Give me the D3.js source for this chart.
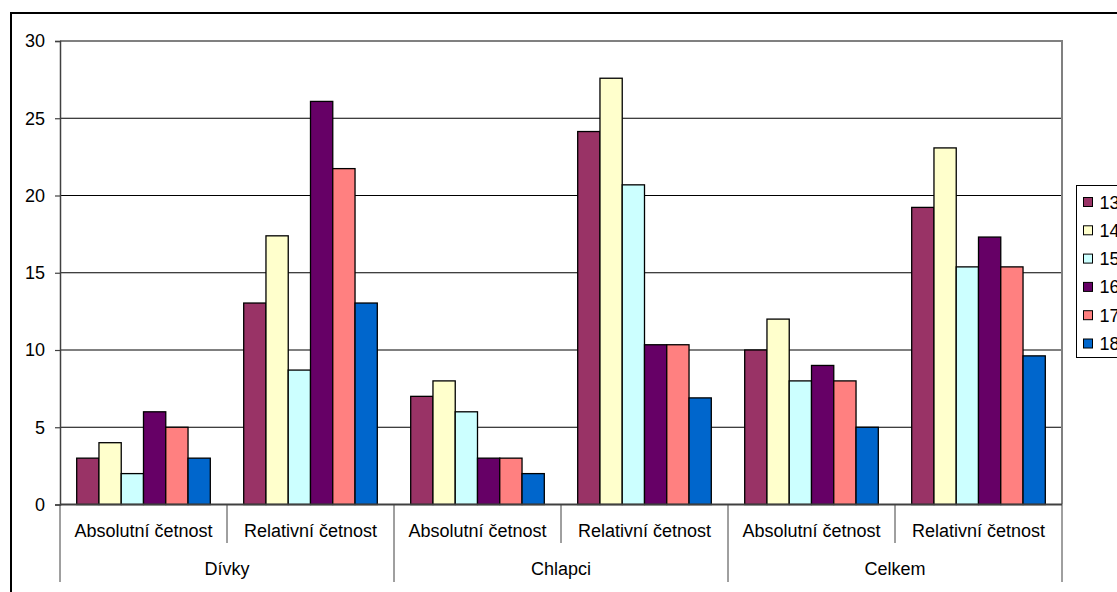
<!DOCTYPE html>
<html>
<head>
<meta charset="utf-8">
<script src="https://cdn.jsdelivr.net/npm/d3@7"></script>
<style>
  html, body { margin: 0; padding: 0; background: #fff; }
  svg { display: block; font-family: Arial, "Liberation Sans", sans-serif; }
</style>
</head>
<body>
<svg id="chart" width="1117" height="592"></svg>
<script>
// Age groups (series) and their colours
const series = ["13", "14", "15", "16", "17", "18"];
const colors = ["#993366", "#FFFFCC", "#CCFFFF", "#660066", "#FF8080", "#0066CC"];

// Two-level category axis: groups and measures within each group
const groups = ["Dívky", "Chlapci", "Celkem"];
const measures = ["Absolutní četnost", "Relativní četnost"];

// Values per category (group × measure), one entry per age group
const divkyAbs  = [3, 4, 2, 6, 5, 3];
const divkyRel  = [13.04, 17.39, 8.7, 26.09, 21.74, 13.04];
const chlapciAbs = [7, 8, 6, 3, 3, 2];
const chlapciRel = [24.14, 27.59, 20.69, 10.34, 10.34, 6.9];
const celkemAbs = [10, 12, 8, 9, 8, 5];
const celkemRel = [19.23, 23.08, 15.38, 17.31, 15.38, 9.62];

const yTicks = [0, 5, 10, 15, 20, 25, 30];

const values = [divkyAbs, divkyRel, chlapciAbs, chlapciRel, celkemAbs, celkemRel];
const categories = [];
groups.forEach(g => measures.forEach(m => categories.push({ group: g, measure: m, key: g + "|" + m })));
categories.forEach((c, i) => c.values = values[i]);

const FONT = 18;
const svg = d3.select("#chart");

// Outer chart frame
svg.append("rect")
  .attr("x", 11).attr("y", 13)
  .attr("width", 1200).attr("height", 700)
  .attr("fill", "#fff").attr("stroke", "#000").attr("stroke-width", 2);

const plot = { left: 60, right: 1062, top: 41, bottom: 504.5 };

const x0 = d3.scaleBand()
  .domain(categories.map(c => c.key))
  .range([plot.left, plot.right])
  .paddingInner(0).paddingOuter(0);

// six bars fill 80% of each category band, leaving a 150% gap
const x1 = d3.scaleBand()
  .domain(series)
  .range([x0.bandwidth() * 0.1, x0.bandwidth() * 0.9])
  .padding(0);

const y = d3.scaleLinear().domain([0, 30]).range([plot.bottom, plot.top]);

// Horizontal gridlines
svg.append("g")
  .selectAll("line")
  .data(yTicks.filter(t => t > 0))
  .join("line")
  .attr("x1", plot.left).attr("x2", plot.right)
  .attr("y1", d => y(d)).attr("y2", d => y(d))
  .attr("stroke", "#000").attr("stroke-width", 1);

// Plot area border (top and right)
svg.append("path")
  .attr("d", `M${plot.left},${plot.top}H${plot.right}V${plot.bottom}`)
  .attr("fill", "none").attr("stroke", "#808080").attr("stroke-width", 2);

// Bars
const catG = svg.append("g")
  .selectAll("g")
  .data(categories)
  .join("g")
  .attr("transform", d => `translate(${x0(d.key)},0)`);

catG.selectAll("rect")
  .data(d => d.values.map((v, i) => ({ v, s: series[i], c: colors[i] })))
  .join("rect")
  .attr("x", d => x1(d.s))
  .attr("width", x1.bandwidth())
  .attr("y", d => y(d.v))
  .attr("height", d => y(0) - y(d.v))
  .attr("fill", d => d.c)
  .attr("stroke", "#000")
  .attr("stroke-width", 1.3);

// Y axis
const yAxis = d3.axisLeft(y).tickValues(yTicks).tickSize(5).tickPadding(10);
const yg = svg.append("g")
  .attr("transform", `translate(${plot.left},0)`)
  .call(yAxis);
yg.select(".domain").attr("stroke", "#404040").attr("stroke-width", 1.5);
yg.selectAll(".tick line").attr("stroke", "#404040").attr("stroke-width", 1.2);
yg.selectAll(".tick text").attr("font-size", FONT).attr("fill", "#000")
  .attr("font-family", "Arial, 'Liberation Sans', sans-serif");

// X axis baseline
svg.append("line")
  .attr("x1", plot.left).attr("x2", plot.right)
  .attr("y1", y(0)).attr("y2", y(0))
  .attr("stroke", "#404040").attr("stroke-width", 2);

// Multi-level category axis: dividers
const shortDiv = [];
const longDiv = [];
categories.forEach((c, i) => {
  const xs = x0(c.key);
  if (i % 2 === 0) longDiv.push(xs); else shortDiv.push(xs);
});
longDiv.push(plot.right);

svg.append("g").selectAll("line")
  .data(shortDiv)
  .join("line")
  .attr("x1", d => d).attr("x2", d => d)
  .attr("y1", y(0)).attr("y2", 543)
  .attr("stroke", "#404040").attr("stroke-width", 1);

svg.append("g").selectAll("line")
  .data(longDiv)
  .join("line")
  .attr("x1", d => d).attr("x2", d => d)
  .attr("y1", y(0)).attr("y2", 582)
  .attr("stroke", "#404040").attr("stroke-width", 1);

// Measure labels
svg.append("g").selectAll("text")
  .data(categories)
  .join("text")
  .attr("x", d => x0(d.key) + x0.bandwidth() / 2)
  .attr("y", 537)
  .attr("text-anchor", "middle")
  .attr("font-size", FONT)
  .text(d => d.measure);

// Group labels
svg.append("g").selectAll("text")
  .data(groups)
  .join("text")
  .attr("x", g => {
    const a = x0(g + "|" + measures[0]);
    const b = x0(g + "|" + measures[1]) + x0.bandwidth();
    return (a + b) / 2;
  })
  .attr("y", 575)
  .attr("text-anchor", "middle")
  .attr("font-size", FONT)
  .text(g => g);

// Legend
const legend = svg.append("g").attr("transform", "translate(1076.5,185.5)");
legend.append("rect")
  .attr("width", 100).attr("height", 172)
  .attr("fill", "#fff").attr("stroke", "#000").attr("stroke-width", 1);

const li = legend.selectAll("g")
  .data(series)
  .join("g")
  .attr("transform", (d, i) => `translate(0,${16.5 + i * 28.3})`);
li.append("rect")
  .attr("x", 7).attr("y", -4.5).attr("width", 9).attr("height", 9)
  .attr("fill", (d, i) => colors[i])
  .attr("stroke", "#000").attr("stroke-width", 1);
li.append("text")
  .attr("x", 23).attr("y", 6.5)
  .attr("font-size", FONT)
  .text(d => d);
</script>
</body>
</html>
